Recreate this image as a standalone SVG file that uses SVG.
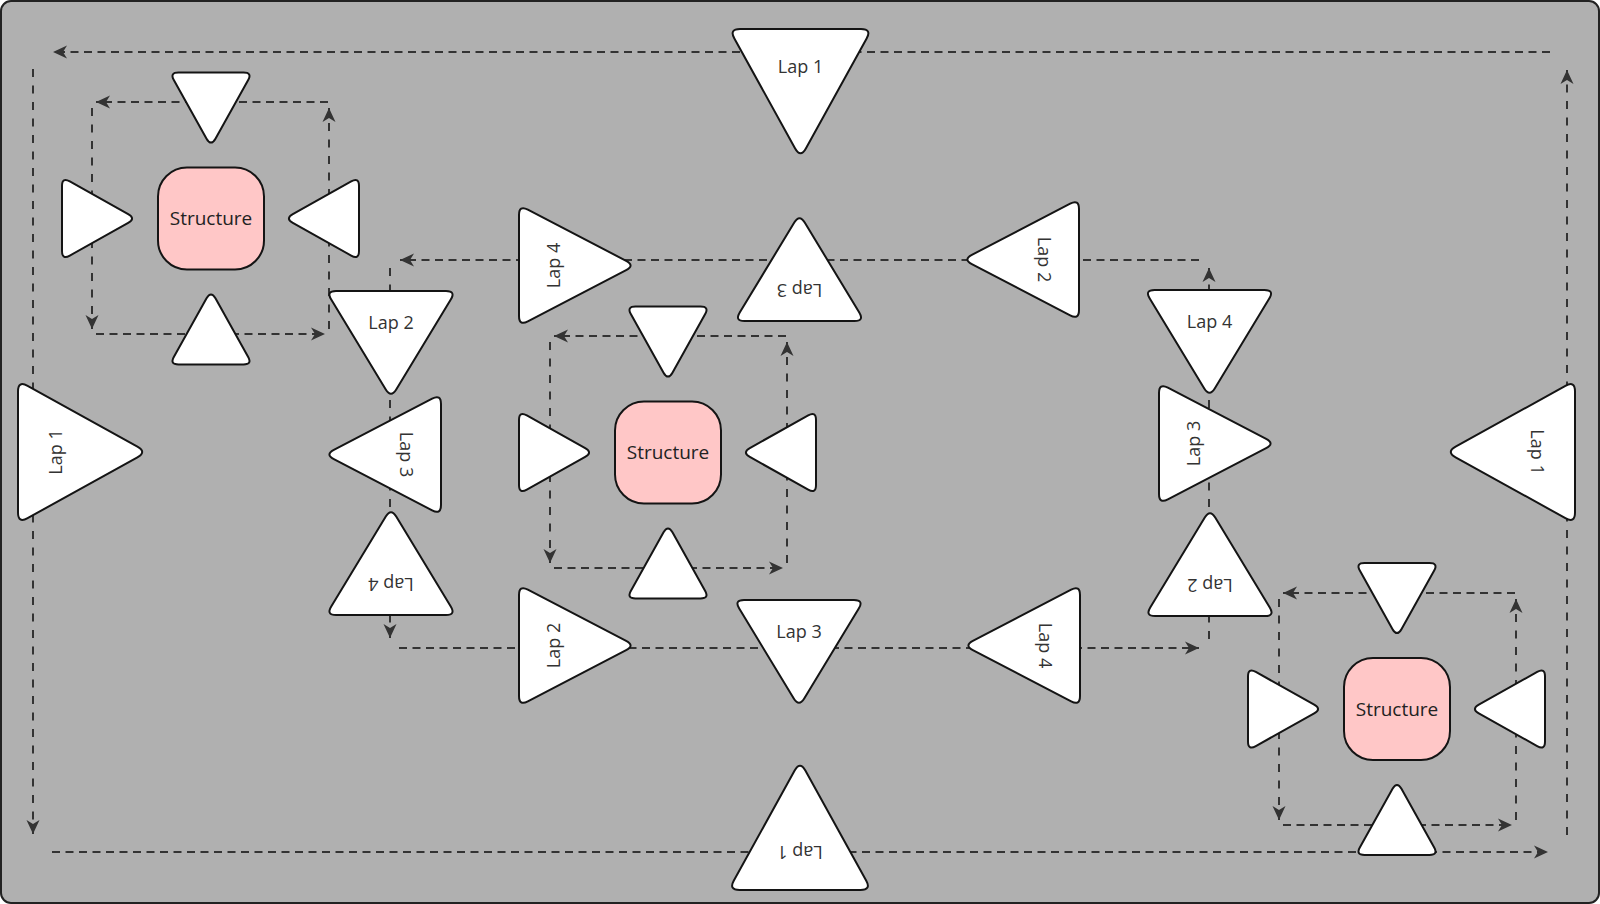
<svg xmlns="http://www.w3.org/2000/svg" width="1600" height="904" viewBox="0 0 1600 904">
<style>
.tri{fill:#ffffff;stroke:#141414;stroke-width:2;stroke-linejoin:round}
.str{fill:#ffc7c7;stroke:#141414;stroke-width:2}
.lbl{font-family:"Open Sans","Noto Sans",sans-serif;font-size:18px;fill:#333333;text-anchor:middle}
.sl{font-family:"Open Sans","Noto Sans",sans-serif;font-size:19px;fill:#222222;text-anchor:middle}
.con{fill:none;stroke:#333333;stroke-width:2;stroke-dasharray:8 5.5;marker-end:url(#arr)}
.conv{fill:none;stroke:#333333;stroke-width:2;stroke-dasharray:8 8.5;marker-end:url(#arr)}
</style>
<defs>
<marker id="arr" markerUnits="userSpaceOnUse" viewBox="0 0 14 14" markerWidth="14" markerHeight="14" refX="14" refY="7" orient="auto">
<path d="M0,0.5 L14,7 L0,13.5 L4,7 Z" fill="#333333"/>
</marker>
<path id="ts" class="tri" d="M-37.05,7.82 L-4.45,66.18 Q0,74 4.45,66.18 L37.05,7.82 Q41.5,0 32.5,0 L-32.5,0 Q-41.5,0 -37.05,7.82 Z"/>
<path id="th" class="tri" d="M-55.84,8.85 L-4.66,107.15 Q0,116 4.66,107.15 L55.84,8.85 Q60.5,0 50.5,0 L-50.5,0 Q-60.5,0 -55.84,8.85 Z"/>
<path id="tv" class="tri" d="M-59.77,8.53 L-5.23,98.47 Q0,107 5.23,98.47 L59.77,8.53 Q65,0 55,0 L-55,0 Q-65,0 -59.77,8.53 Z"/>
<path id="tb" class="tri" d="M-66.14,9.6 L-5.36,119.4 Q0,129 5.36,119.4 L66.14,9.6 Q71.5,0 60.5,0 L-60.5,0 Q-71.5,0 -66.14,9.6 Z"/>
</defs>

<rect x="1" y="1" width="1598" height="902" rx="10" fill="#b0b0b0" stroke="#222222" stroke-width="2"/>

<g id="connectors">
<path class="con" d="M1550,52 H53"/>
<path class="conv" d="M33,69 V834"/>
<path class="con" d="M52,852 H1548"/>
<path class="conv" d="M1567,835 V70"/>
<path class="con" d="M1199,260 H400"/>
<path class="conv" d="M390,268 V638"/>
<path class="con" d="M399,648 H1199"/>
<path class="conv" d="M1209,639 V268"/>
<path class="con" d="M328,102 H96"/>
<path class="conv" d="M92,108 V329"/>
<path class="con" d="M96,334 H325"/>
<path class="conv" d="M329,329 V108"/>
<path class="con" d="M786,336 H554"/>
<path class="conv" d="M550,342 V563"/>
<path class="con" d="M554,568 H783"/>
<path class="conv" d="M787,563 V342"/>
<path class="con" d="M1515,593 H1283"/>
<path class="conv" d="M1279,599 V820"/>
<path class="con" d="M1283,825 H1512"/>
<path class="conv" d="M1516,820 V599"/>
</g>

<g id="lap1-top" transform="translate(800.5,29)"><use href="#tb"/><text class="lbl" x="0" y="44">Lap 1</text></g>
<g id="lap1-left" transform="translate(18,452) rotate(-90)"><use href="#tb"/><text class="lbl" x="0" y="44">Lap 1</text></g>
<g id="lap1-right" transform="translate(1575,452) rotate(90)"><use href="#tb"/><text class="lbl" x="0" y="44">Lap 1</text></g>
<g id="lap1-bottom" transform="translate(800,890) rotate(180)"><use href="#tb"/><text class="lbl" x="0" y="44">Lap 1</text></g>

<g id="lap2-left" transform="translate(391,291)"><use href="#tv"/><text class="lbl" x="0" y="37.5">Lap 2</text></g>
<g id="lap3-left" transform="translate(441,454.5) rotate(90)"><use href="#th"/><text class="lbl" x="0" y="41">Lap 3</text></g>
<g id="lap4-left" transform="translate(391,615) rotate(180)"><use href="#tv"/><text class="lbl" x="0" y="37.5">Lap 4</text></g>

<g id="lap4-top" transform="translate(519,265.5) rotate(-90)"><use href="#th"/><text class="lbl" x="0" y="41">Lap 4</text></g>
<g id="lap3-top" transform="translate(799.5,321) rotate(180)"><use href="#tv"/><text class="lbl" x="0" y="37.5">Lap 3</text></g>
<g id="lap2-top" transform="translate(1079,259.5) rotate(90)"><use href="#th"/><text class="lbl" x="0" y="41">Lap 2</text></g>

<g id="lap4-right" transform="translate(1209.5,290)"><use href="#tv"/><text class="lbl" x="0" y="37.5">Lap 4</text></g>
<g id="lap3-right" transform="translate(1159,443.5) rotate(-90)"><use href="#th"/><text class="lbl" x="0" y="41">Lap 3</text></g>
<g id="lap2-right" transform="translate(1210,616) rotate(180)"><use href="#tv"/><text class="lbl" x="0" y="37.5">Lap 2</text></g>

<g id="lap2-bottom" transform="translate(519,645.5) rotate(-90)"><use href="#th"/><text class="lbl" x="0" y="41">Lap 2</text></g>
<g id="lap3-bottom" transform="translate(799,600)"><use href="#tv"/><text class="lbl" x="0" y="37.5">Lap 3</text></g>
<g id="lap4-bottom" transform="translate(1080,645.5) rotate(90)"><use href="#th"/><text class="lbl" x="0" y="41">Lap 4</text></g>

<g id="cluster1" transform="translate(211,218.5)">
<g id="c1-structure"><rect class="str" x="-53" y="-51" width="106" height="102" rx="29"/><text class="sl" x="0" y="6.7">Structure</text></g>
<g id="c1-top"><use href="#ts" transform="translate(0,-146)"/></g>
<g id="c1-bottom"><use href="#ts" transform="translate(0,146) rotate(180)"/></g>
<g id="c1-left"><use href="#ts" transform="translate(-149,0) rotate(-90)"/></g>
<g id="c1-right"><use href="#ts" transform="translate(148,0) rotate(90)"/></g>
</g>

<g id="cluster2" transform="translate(668,452.5)">
<g id="c2-structure"><rect class="str" x="-53" y="-51" width="106" height="102" rx="29"/><text class="sl" x="0" y="6.7">Structure</text></g>
<g id="c2-top"><use href="#ts" transform="translate(0,-146)"/></g>
<g id="c2-bottom"><use href="#ts" transform="translate(0,146) rotate(180)"/></g>
<g id="c2-left"><use href="#ts" transform="translate(-149,0) rotate(-90)"/></g>
<g id="c2-right"><use href="#ts" transform="translate(148,0) rotate(90)"/></g>
</g>

<g id="cluster3" transform="translate(1397,709)">
<g id="c3-structure"><rect class="str" x="-53" y="-51" width="106" height="102" rx="29"/><text class="sl" x="0" y="6.7">Structure</text></g>
<g id="c3-top"><use href="#ts" transform="translate(0,-146)"/></g>
<g id="c3-bottom"><use href="#ts" transform="translate(0,146) rotate(180)"/></g>
<g id="c3-left"><use href="#ts" transform="translate(-149,0) rotate(-90)"/></g>
<g id="c3-right"><use href="#ts" transform="translate(148,0) rotate(90)"/></g>
</g>
</svg>
